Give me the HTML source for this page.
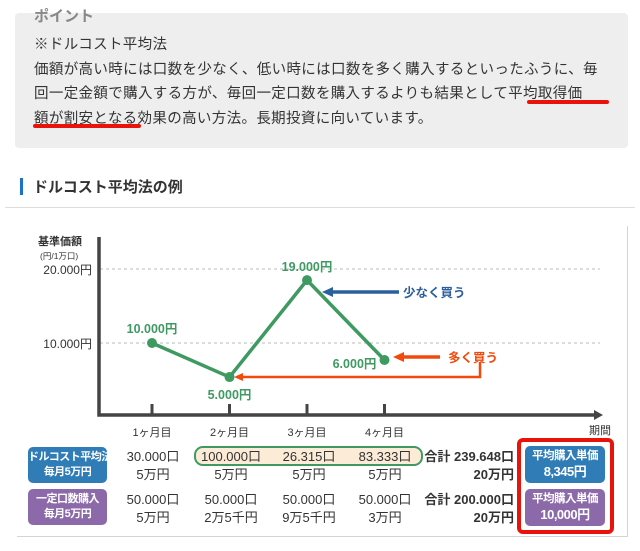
<!DOCTYPE html>
<html><head><meta charset="utf-8">
<style>
body{margin:0;width:640px;height:551px;overflow:hidden;background:#fff;font-family:"Liberation Sans","Noto Sans CJK JP",sans-serif;position:relative}
.a{position:absolute;white-space:nowrap}
#point{position:absolute;left:15px;top:13px;width:613px;height:135px;background:#eeeeee;border-radius:4px}
.t{font-size:14.5px;color:#333;line-height:24.5px;letter-spacing:0.35px}
.ul{position:absolute;height:4px;background:#e8140c;border-radius:2px}
.c{font-size:13px;color:#333;text-align:center;width:80px}
.lab{position:absolute;color:#fff;font-weight:bold;font-size:11px;text-align:center;border-radius:5px;line-height:15px;padding-top:3px;white-space:nowrap;letter-spacing:-0.5px}
</style></head><body>
<div id="point"></div>
<div class="a" style="left:34px;top:5px;font-size:15px;font-weight:bold;color:#888">ポイント</div>
<div class="a t" style="left:34px;top:33px">※ドルコスト平均法<br>価額が高い時には口数を少なく、低い時には口数を多く購入するといったふうに、毎<br>回一定金額で購入する方が、毎回一定口数を購入するよりも結果として平均取得価<br>額が割安となる効果の高い方法。長期投資に向いています。</div>
<div class="ul" style="left:527px;top:100px;width:82px"></div>
<div class="ul" style="left:33px;top:124px;width:108px"></div>
<div class="a" style="left:20px;top:178px;width:3px;height:17px;background:#1a73c9"></div>
<div class="a" style="left:33px;top:176px;font-size:15px;font-weight:bold;color:#333">ドルコスト平均法の例</div>
<div class="a" style="left:5px;top:207px;width:630px;height:1px;background:#ddd"></div>
<div class="a" style="left:17px;top:226px;width:610px;height:310px;border:1px solid #d4d4d4;border-top:none;border-left:none"></div>

<svg class="a" style="left:0;top:0" width="640" height="551" font-family="Liberation Sans, Noto Sans CJK JP, sans-serif">
<g id="g"></g>
</svg>

<div class="lab" style="left:28px;top:447px;width:79px;height:33px;background:#2f7cb6">ドルコスト平均法<br>毎月5万円</div>
<div class="lab" style="left:28px;top:489px;width:79px;height:33px;background:#8c6aaa">一定口数購入<br>毎月5万円</div>
<div class="a" style="left:194px;top:446px;width:225px;height:16px;border:2px solid #3f9a62;border-radius:9px;background:#fcebd6"></div>
<div class="a" style="left:517px;top:438px;width:89px;height:88px;border:4px solid #e8140c;border-radius:6px"></div>
<div class="lab" style="left:525px;top:446px;width:80px;height:34px;background:#2f7cb6;font-size:11.5px">平均購入単価<br><span style="font-size:13px">8,345円</span></div>
<div class="lab" style="left:525px;top:489px;width:80px;height:34px;background:#8c6aaa;font-size:11.5px">平均購入単価<br><span style="font-size:13px">10,000円</span></div>
<div id="tbl"></div>

<script>
const months=["1ヶ月目","2ヶ月目","3ヶ月目","4ヶ月目"];
const prices=[10000,5400,18500,7700];
const priceLabels=["10.000円","5.000円","19.000円","6.000円"];
const yTicks=[10000,20000];
const yTickLabels=["10.000円","20.000円"];
const dcaUnits=["30.000口","100.000口","26.315口","83.333口"];
const dcaCost=["5万円","5万円","5万円","5万円"];
const fixUnits=["50.000口","50.000口","50.000口","50.000口"];
const fixCost=["5万円","2万5千円","9万5千円","3万円"];
const totals=["合計 239.648口","20万円","合計 200.000口","20万円"];

const NS="http://www.w3.org/2000/svg";
const g=document.getElementById('g');
const X=i=>152+i*77.5;
const Y=v=>417-v*0.0074;
function el(t,a,txt){const e=document.createElementNS(NS,t);for(const k in a)e.setAttribute(k,a[k]);if(txt!==undefined)e.textContent=txt;g.appendChild(e);return e;}
yTicks.forEach((v,i)=>{
 const l=el('line',{x1:100,x2:600,y1:Y(v),y2:Y(v),stroke:'#bbb','stroke-dasharray':'3,3'});
 
 
 const t=el('text',{x:92,y:Y(v)+5,'text-anchor':'end','font-size':12,fill:'#333'},yTickLabels[i]);
 
 
});
let e=el('text',{x:38,y:245,'font-size':11,'font-weight':'bold',fill:'#333'},'基準価額');


e=el('text',{x:40,y:259,'font-size':8.5,fill:'#333'},'(円/1万口)');


e=el('path',{d:'M99,237 V415 H595',stroke:'#444','stroke-width':3.5,fill:'none'});


e=el('path',{d:'M594,410 L603,415 L594,420 Z',fill:'#444'});


e=el('text',{x:611,y:434,'text-anchor':'end','font-size':11,fill:'#333'},'期間');


months.forEach((m,i)=>{
 const tk=el('line',{x1:X(i),x2:X(i),y1:404,y2:415,stroke:'#444','stroke-width':3});
 
 
 const t=el('text',{x:X(i),y:436,'text-anchor':'middle','font-size':11,fill:'#333'},m);
 
 
});
e=el('path',{d:'M399,292 H330',stroke:'#2c5f9e','stroke-width':3.5});


e=el('path',{d:'M322,292 L333,287 L333,297 Z',fill:'#2c5f9e'});


e=el('text',{x:403,y:297,'font-size':12.5,'font-weight':'bold',fill:'#2c5f9e'},'少なく買う');


e=el('path',{d:'M440,357 H402',stroke:'#f24a0c','stroke-width':3.5});


e=el('path',{d:'M393,357 L404,352 L404,362 Z',fill:'#f24a0c'});


e=el('path',{d:'M480,362 V377 H240',stroke:'#f24a0c','stroke-width':2.5,fill:'none'});


e=el('path',{d:'M234,377 L243,373 L243,381 Z',fill:'#f24a0c'});


e=el('text',{x:448,y:362,'font-size':12.5,'font-weight':'bold',fill:'#f24a0c'},'多く買う');


e=el('polyline',{points:prices.map((v,i)=>X(i)+','+Y(v)).join(' '),fill:'none',stroke:'#3f9a62','stroke-width':3.5,'stroke-linejoin':'round'});


const off=[[0,-10],[0,22],[0,-9],[-30,8]];
prices.forEach((v,i)=>{
 const c=el('circle',{cx:X(i),cy:Y(v),r:5,fill:'#3f9a62'});
 
 
 const t=el('text',{x:X(i)+off[i][0],y:Y(v)+off[i][1],'text-anchor':'middle','font-size':12.5,'font-weight':'bold',fill:'#3f9a62'},priceLabels[i]);
 
 
});
const tbl=document.getElementById('tbl');
function cell(txt,x,y,name){const d=document.createElement('div');d.className='a c';d.style.left=(x-40)+'px';d.style.top=y+'px';d.textContent=txt;


tbl.appendChild(d);}
const cx=[153,231,309,385];
months.forEach((m,i)=>{
 cell(dcaUnits[i],cx[i],446,'dca-units');
 cell(dcaCost[i],cx[i],464,'dca-cost');
 cell(fixUnits[i],cx[i],489,'fixed-units');
 cell(fixCost[i],cx[i],507,'fixed-cost');
});
[446,464,489,507].forEach((y,i)=>{
 const d=document.createElement('div');d.className='a';d.style.cssText='right:126px;top:'+y+'px;font-size:13px;font-weight:bold;color:#333';d.textContent=totals[i];
 
 
 tbl.appendChild(d);
});
</script>
</body></html>
